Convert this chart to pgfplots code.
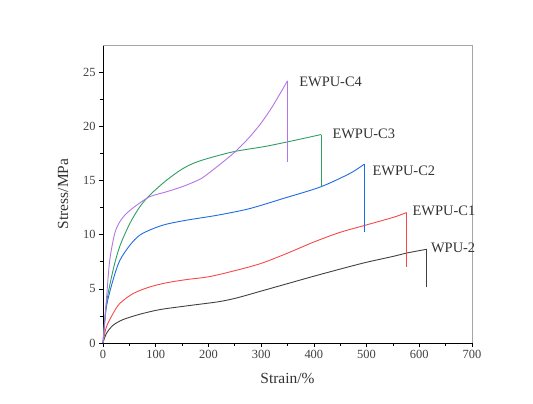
\documentclass[border=0pt]{standalone}
\usepackage{pgfplots}
\pgfplotsset{compat=1.18}
\usepackage{fontspec}
\setmainfont{Liberation Serif}
\definecolor{cblack}{HTML}{404040}
\definecolor{cred}{HTML}{F94848}
\definecolor{cblue}{HTML}{1F6BE3}
\definecolor{cgreen}{HTML}{2E9E62}
\definecolor{cpurple}{HTML}{B474E6}
\begin{document}
\begin{tikzpicture}
\begin{axis}[
  name=ax,
  scale only axis,
  width=369bp, height=298bp,
  xmin=0, xmax=700, ymin=0, ymax=27.5,
  axis x line*=bottom, axis y line*=left,
  axis line style={black, line width=0.8bp, -},
  xtick={0,100,...,700}, ytick={0,5,...,25},
  minor x tick num=1, minor y tick num=1,
  tick align=outside,
  major tick length=4bp, minor tick length=2.5bp,
  tick style={black, line width=0.6bp},
  tick label style={font=\fontsize{12.5}{14}\selectfont, text=black!75},
  /pgf/number format/assume math mode=true,
  xlabel={Strain/\%}, ylabel={Stress/MPa},
  label style={font=\fontsize{15.5}{17}\selectfont, text=black!80},
  xlabel style={yshift=-7bp},
  ylabel style={yshift=8bp},
  every axis plot/.append style={line width=0.9bp},
  clip=false,
]
% WPU-2
\addplot[cblack, smooth] coordinates {
(0,0) (6.4,0.87) (19,1.63) (38,2.16) (69.6,2.65) (107.6,3.08) (158,3.42) (218,3.8) (253,4.15) (297,4.75) (348,5.45) (399,6.15) (456,6.9) (500,7.45) (551,8.0) (576,8.3) (614,8.65)};
\addplot[cblack] coordinates {(614,8.65) (614,5.2)};
% EWPU-C1
\addplot[cred, smooth] coordinates {
(0,0) (6.4,1.48) (19,2.71) (31.7,3.64) (57,4.56) (88.6,5.17) (120,5.55) (158,5.85) (199,6.1) (240,6.55) (297,7.3) (348,8.25) (399,9.3) (449,10.2) (500,10.9) (551,11.6) (576,12.04)};
\addplot[cred] coordinates {(576,12.04) (576,7.0)};
% EWPU-C2
\addplot[cblue, smooth] coordinates {
(0,0) (6.4,3.3) (19,5.8) (31.7,7.6) (50.6,9.0) (69.6,9.95) (94.9,10.55) (120,10.96) (158,11.33) (218,11.8) (278,12.4) (341.6,13.33) (412.4,14.4) (468,15.64) (495.6,16.5)};
\addplot[cblue] coordinates {(495.6,16.5) (495.6,10.25)};
% EWPU-C3
\addplot[cgreen, smooth] coordinates {
(0,0) (6.4,3.6) (19,6.7) (31.7,8.9) (50.6,11.0) (69.6,12.55) (88.6,13.64) (120,15.0) (151.8,16.1) (183.5,16.8) (246.6,17.64) (310,18.16) (373,18.8) (414,19.24)};
\addplot[cgreen] coordinates {(414,19.24) (414,14.4)};
% EWPU-C4
\addplot[cpurple, smooth] coordinates {
(0,0) (6.4,3.94) (12.7,7.6) (22.2,10.1) (31.7,11.17) (44.4,11.95) (63.4,12.7) (88.6,13.5) (120,13.95) (151.8,14.45) (183.5,15.1) (200,15.65) (221,16.45) (240,17.2) (253,17.75) (278,19.0) (300,20.3) (323,21.95) (350,24.2)};
\addplot[cpurple] coordinates {(350,24.2) (350,16.7)};
\draw[gray!70, line width=0.6bp] (rel axis cs:0,1) -- (rel axis cs:1,1) -- (rel axis cs:1,0);
\begin{scope}[every node/.style={anchor=west, font=\fontsize{14.5}{16}\selectfont, text=black!80, inner sep=0pt}]
\node at (axis cs:372,24.1) {EWPU-C4};
\node at (axis cs:435,19.3) {EWPU-C3};
\node at (axis cs:511,15.9) {EWPU-C2};
\node at (axis cs:587,12.2) {EWPU-C1};
\node at (axis cs:622,8.75) {WPU-2};
\end{scope}
\end{axis}
\path (ax.south west) ++(-103bp,-61bp) rectangle ++(533bp,404bp);
\end{tikzpicture}
\end{document}
